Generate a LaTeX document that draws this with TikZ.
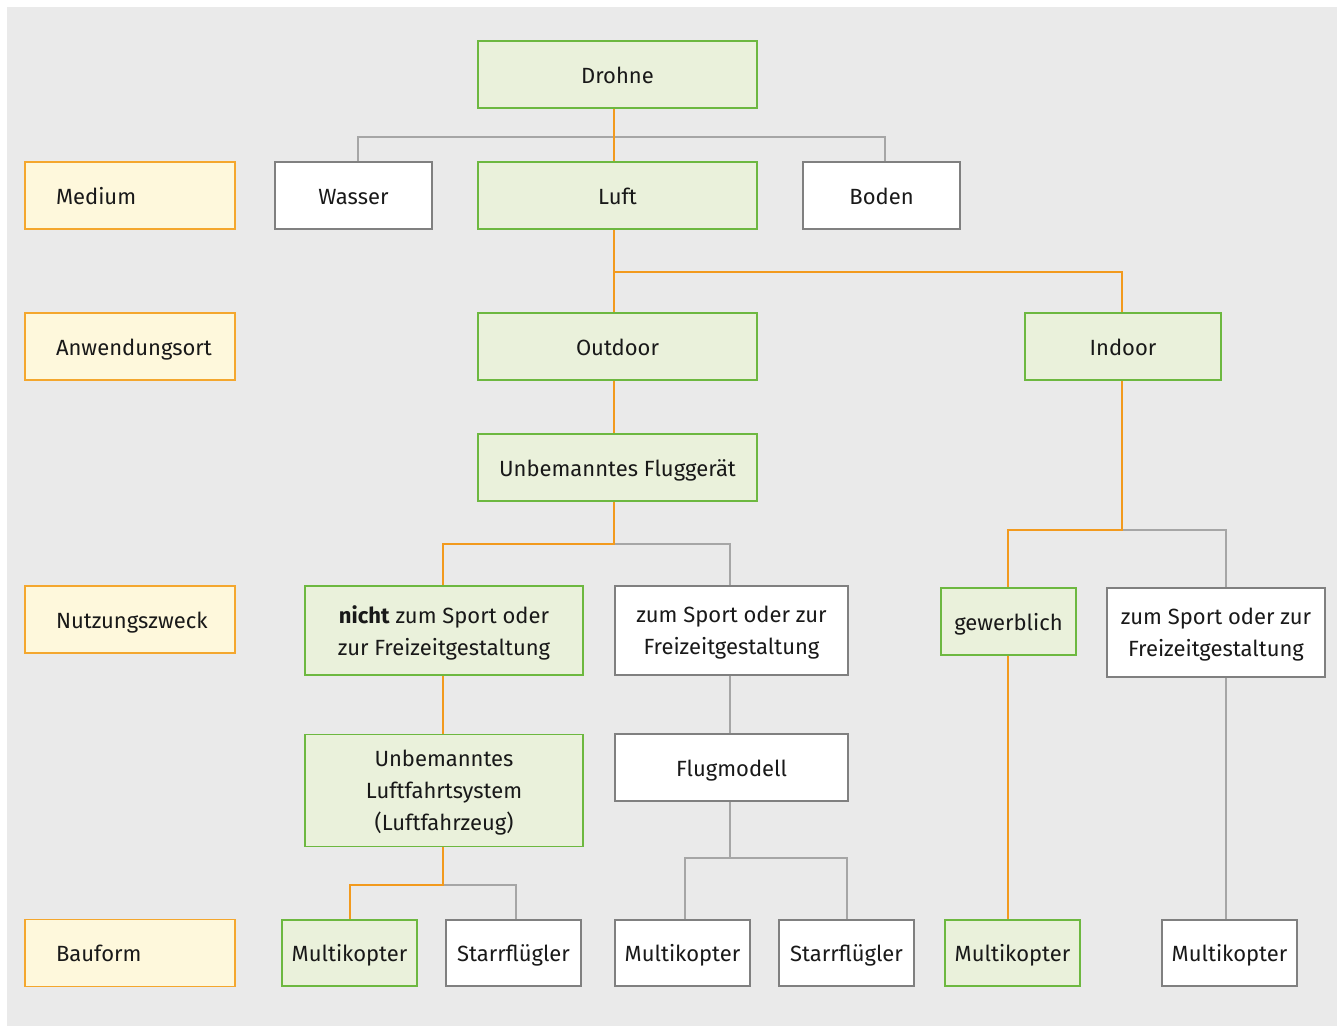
\documentclass[tikz,border=0pt]{standalone}
\usepackage{fontspec}
\setmainfont{Fira Sans}
\usetikzlibrary{backgrounds}
\definecolor{bggray}{HTML}{EAEAEA}
\definecolor{gfill}{HTML}{EAF1DB}
\definecolor{gborder}{HTML}{6DB840}
\definecolor{yfill}{HTML}{FEF8DC}
\definecolor{yborder}{HTML}{F4A72E}
\definecolor{oline}{HTML}{F29A1E}
\definecolor{gline}{HTML}{A6A6A6}
\definecolor{wborder}{HTML}{808080}
\tikzset{
  base/.style={inner sep=0pt, outer sep=0pt, line width=1.6pt, font=\fontsize{22}{32}\selectfont, align=center, text=black!90, text height=17pt, text depth=0pt},
  gbox/.style={base, fill=gfill, draw=gborder},
  wbox/.style={base, fill=white, draw=wborder},
  ybox/.style={base, fill=yfill, draw=yborder, text width=148pt, align=left, minimum width=210pt, minimum height=67pt},
  multi/.style={text height=, text depth=0pt},
  oconn/.style={draw=oline, line width=2.4pt},
  gconn/.style={draw=gline, line width=2.4pt},
}
\begin{document}
\begin{tikzpicture}[x=1pt,y=-1pt]
\useasboundingbox (0,0) rectangle (1340,1026);
% labels
\node[ybox] (lmed) at (130,195.5) {Medium};
\node[ybox] (lanw) at (130,346.5) {Anwendungsort};
\node[ybox] (lnut) at (130,619.5) {Nutzungszweck};
\node[ybox] (lbau) at (130,953) {Bauform};
% nodes
\node[gbox, minimum width=279pt, minimum height=67pt] (drohne) at (617.5,74.5) {Drohne};
\node[wbox, minimum width=157pt, minimum height=67pt] (wasser) at (353.5,195.5) {Wasser};
\node[gbox, minimum width=279pt, minimum height=67pt] (luft) at (617.5,195.5) {Luft};
\node[wbox, minimum width=157pt, minimum height=67pt] (boden) at (881.5,195.5) {Boden};
\node[gbox, minimum width=279pt, minimum height=67pt] (outdoor) at (617.5,346.5) {Outdoor};
\node[gbox, minimum width=196pt, minimum height=67pt] (indoor) at (1123,346.5) {Indoor};
\node[gbox, minimum width=279pt, minimum height=67pt] (ufg) at (617.5,467.5) {Unbemanntes Fluggerät};
\node[gbox, multi, minimum width=278pt, minimum height=89pt] (nicht) at (444,630.5) {\textbf{nicht} zum Sport oder\\zur Freizeitgestaltung};
\node[wbox, multi, minimum width=233pt, minimum height=89pt] (zs1) at (731.5,630.5) {zum Sport oder zur\\Freizeitgestaltung};
\node[gbox, minimum width=135pt, minimum height=67pt] (gew) at (1008.5,621.5) {gewerblich};
\node[wbox, multi, minimum width=218pt, minimum height=89pt] (zs2) at (1216,632.5) {zum Sport oder zur\\Freizeitgestaltung};
\node[gbox, multi, minimum width=278pt, minimum height=112pt] (uls) at (444,790.5) {Unbemanntes\\Luftfahrtsystem\\(Luftfahrzeug)};
\node[wbox, minimum width=233pt, minimum height=67pt] (flug) at (731.5,767.5) {Flugmodell};
\node[gbox, minimum width=135pt, minimum height=66pt] (mk1) at (349.5,953) {Multikopter};
\node[wbox, minimum width=135pt, minimum height=66pt] (sf1) at (513.5,953) {Starrflügler};
\node[wbox, minimum width=135pt, minimum height=66pt] (mk2) at (682.5,953) {Multikopter};
\node[wbox, minimum width=135pt, minimum height=66pt] (sf2) at (846.5,953) {Starrflügler};
\node[gbox, minimum width=135pt, minimum height=66pt] (mk3) at (1012.5,953) {Multikopter};
\node[wbox, minimum width=135pt, minimum height=66pt] (mk4) at (1229.5,953) {Multikopter};
% junctions
\coordinate (j1) at (614,137);
\coordinate (j2) at (614,272);
\coordinate (j3) at (614,544);
\coordinate (j4) at (1122,530);
\coordinate (j5) at (443,885);
\coordinate (j6) at (730,858);
\begin{scope}[on background layer]
\fill[white] (0,0) rectangle (1340,1026);
\fill[bggray] (7,7) rectangle (1337,1026);
% gray connectors
\draw[gconn] ([xshift=4.5pt]wasser.north) |- (j1) -| ([xshift=3.5pt]boden.north);
\draw[gconn] (j3) -| ([xshift=-1.5pt]zs1.north);
\draw[gconn] (j4) -| ([xshift=10pt]zs2.north);
\draw[gconn] ([xshift=-1.5pt]zs1.south) -- ([xshift=-1.5pt]flug.north);
\draw[gconn] (j5) -| ([xshift=2.5pt]sf1.north);
\draw[gconn] ([xshift=-1.5pt]flug.south) -- (j6);
\draw[gconn] ([xshift=2.5pt]mk2.north) |- (j6) -| ([xshift=0.5pt]sf2.north);
\draw[gconn] ([xshift=10pt]zs2.south) -- ([xshift=-3.5pt]mk4.north);
% orange connectors
\draw[oconn] ([xshift=-3.5pt]drohne.south) -- ([xshift=-3.5pt]luft.north);
\draw[oconn] ([xshift=-3.5pt]luft.south) -- ([xshift=-3.5pt]outdoor.north);
\draw[oconn] (j2) -| ([xshift=-1pt]indoor.north);
\draw[oconn] ([xshift=-3.5pt]outdoor.south) -- ([xshift=-3.5pt]ufg.north);
\draw[oconn] ([xshift=-3.5pt]ufg.south) -- (j3) -| ([xshift=-1pt]nicht.north);
\draw[oconn] ([xshift=-1pt]indoor.south) -- (j4) -| ([xshift=-0.5pt]gew.north);
\draw[oconn] ([xshift=-1pt]nicht.south) -- ([xshift=-1pt]uls.north);
\draw[oconn] ([xshift=-1pt]uls.south) -- (j5) -| ([xshift=0.5pt]mk1.north);
\draw[oconn] ([xshift=-0.5pt]gew.south) -- ([xshift=-4.5pt]mk3.north);
\end{scope}
\end{tikzpicture}
\end{document}
